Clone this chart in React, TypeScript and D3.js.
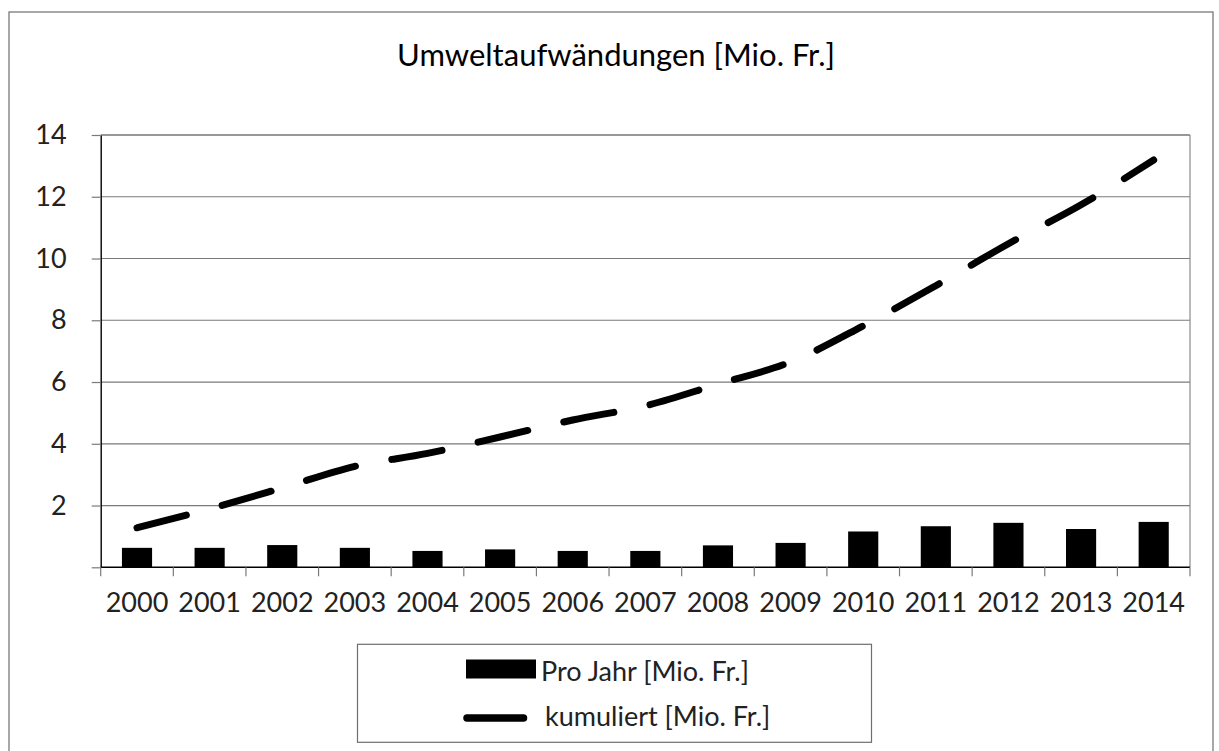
import React, { useEffect, useRef } from 'react';
import * as d3 from 'd3';

const years = ['2000', '2001', '2002', '2003', '2004', '2005', '2006', '2007', '2008', '2009', '2010', '2011', '2012', '2013', '2014'];
const proJahr = [0.63, 0.63, 0.72, 0.63, 0.53, 0.58, 0.53, 0.53, 0.71, 0.79, 1.16, 1.33, 1.44, 1.24, 1.47];
const kumuliert = [1.28, 1.89, 2.57, 3.27, 3.69, 4.22, 4.77, 5.23, 5.93, 6.65, 7.82, 9.12, 10.48, 11.74, 13.19];
const yTicks = [0, 2, 4, 6, 8, 10, 12, 14];

const title = 'Umweltaufwändungen [Mio. Fr.]';
const legendBar = 'Pro Jahr [Mio. Fr.]';
const legendLine = 'kumuliert [Mio. Fr.]';

const FONT = "Lato, 'Open Sans', sans-serif";

const App = () => {
  const svgRef = useRef(null);

  useEffect(() => {
    const W = 1219;
    const H = 751;
    const plot = { left: 100.7, right: 1190, top: 135, bottom: 567.3 };

    const svg = d3.select(svgRef.current);
    svg.selectAll('*').remove();
    svg.attr('width', W).attr('height', H);

    svg.append('rect').attr('width', W).attr('height', H).attr('fill', '#fff');

    // outer chart frame
    svg.append('rect')
      .attr('x', 9).attr('y', 12)
      .attr('width', 1204).attr('height', 760)
      .attr('fill', 'none').attr('stroke', '#6e6e6e').attr('stroke-width', 1.2);

    // title
    svg.append('text')
      .attr('x', 616).attr('y', 66)
      .attr('text-anchor', 'middle')
      .style('font-family', FONT).style('font-size', '31px')
      .attr('fill', '#000')
      .text(title);

    const x = d3.scaleBand().domain(years).range([plot.left, plot.right]).paddingInner(0).paddingOuter(0);
    const y = d3.scaleLinear().domain([0, 14]).range([plot.bottom, plot.top]);

    // gridlines
    svg.append('g').selectAll('line')
      .data(yTicks.filter(t => t > 0))
      .enter().append('line')
      .attr('x1', plot.left).attr('x2', plot.right)
      .attr('y1', d => y(d)).attr('y2', d => y(d))
      .attr('stroke', d => (d === 14 ? '#333' : '#7a7a7a')).attr('stroke-width', 1.2);

    // right border of plot
    svg.append('line')
      .attr('x1', plot.right).attr('x2', plot.right)
      .attr('y1', plot.top).attr('y2', plot.bottom)
      .attr('stroke', '#8a8a8a').attr('stroke-width', 1.2);

    // y axis (no label at zero, as in the original)
    const yAxis = d3.axisLeft(y).tickValues(yTicks).tickSize(9).tickSizeOuter(0).tickPadding(25)
      .tickFormat(d => (d === 0 ? '' : String(d)));
    const yg = svg.append('g').attr('transform', `translate(${plot.left},0)`).call(yAxis);
    yg.select('.domain').attr('stroke', '#000').attr('stroke-width', 1.4);
    yg.selectAll('.tick line').attr('stroke', '#7a7a7a').attr('stroke-width', 1.2);
    yg.selectAll('.tick text')
      .style('font-family', FONT).style('font-size', '27px').attr('fill', '#222');

    // bars
    const barW = x.bandwidth() * 0.415;
    svg.append('g').selectAll('rect')
      .data(years)
      .enter().append('rect')
      .attr('x', (d) => x(d) + (x.bandwidth() - barW) / 2)
      .attr('y', (d, i) => y(proJahr[i]))
      .attr('width', barW)
      .attr('height', (d, i) => y(0) - y(proJahr[i]))
      .attr('fill', '#000');

    // x axis line
    svg.append('line')
      .attr('x1', plot.left).attr('x2', plot.right)
      .attr('y1', plot.bottom).attr('y2', plot.bottom)
      .attr('stroke', '#000').attr('stroke-width', 1.4);

    // x ticks on category boundaries
    const bounds = years.map(d => x(d)).concat([plot.right]);
    svg.append('g').selectAll('line')
      .data(bounds)
      .enter().append('line')
      .attr('x1', d => d).attr('x2', d => d)
      .attr('y1', plot.bottom).attr('y2', plot.bottom + 9)
      .attr('stroke', '#7a7a7a').attr('stroke-width', 1.2);

    // x labels
    svg.append('g').selectAll('text')
      .data(years)
      .enter().append('text')
      .attr('x', d => x(d) + x.bandwidth() / 2)
      .attr('y', 611.5)
      .attr('text-anchor', 'middle')
      .style('font-family', FONT).style('font-size', '27px')
      .attr('fill', '#222')
      .text(d => d);

    // cumulative dashed line
    const line = d3.line()
      .x((d, i) => x(years[i]) + x.bandwidth() / 2)
      .y(d => y(d))
      .curve(d3.curveMonotoneX);

    svg.append('path')
      .datum(kumuliert)
      .attr('d', line)
      .attr('fill', 'none')
      .attr('stroke', '#000')
      .attr('stroke-width', 7)
      .attr('stroke-linecap', 'round')
      .attr('stroke-dasharray', '51,37');

    // legend
    const lg = svg.append('g');
    lg.append('rect')
      .attr('x', 357.5).attr('y', 644.3)
      .attr('width', 514).attr('height', 98)
      .attr('fill', '#fff').attr('stroke', '#6e6e6e').attr('stroke-width', 1.2);
    lg.append('rect')
      .attr('x', 466).attr('y', 659.5)
      .attr('width', 70).attr('height', 19)
      .attr('fill', '#000');
    lg.append('text')
      .attr('x', 541).attr('y', 681)
      .style('font-family', FONT).style('font-size', '27px')
      .attr('fill', '#222')
      .text(legendBar);
    lg.append('line')
      .attr('x1', 467).attr('x2', 523.5)
      .attr('y1', 718).attr('y2', 718)
      .attr('stroke', '#000').attr('stroke-width', 7.5)
      .attr('stroke-linecap', 'round');
    lg.append('text')
      .attr('x', 545).attr('y', 726)
      .style('font-family', FONT).style('font-size', '27px')
      .attr('fill', '#222')
      .text(legendLine);
  }, []);

  return (
    <svg ref={svgRef} style={{ position: 'absolute', left: 0, top: 0 }}></svg>
  );
};

export default App;
